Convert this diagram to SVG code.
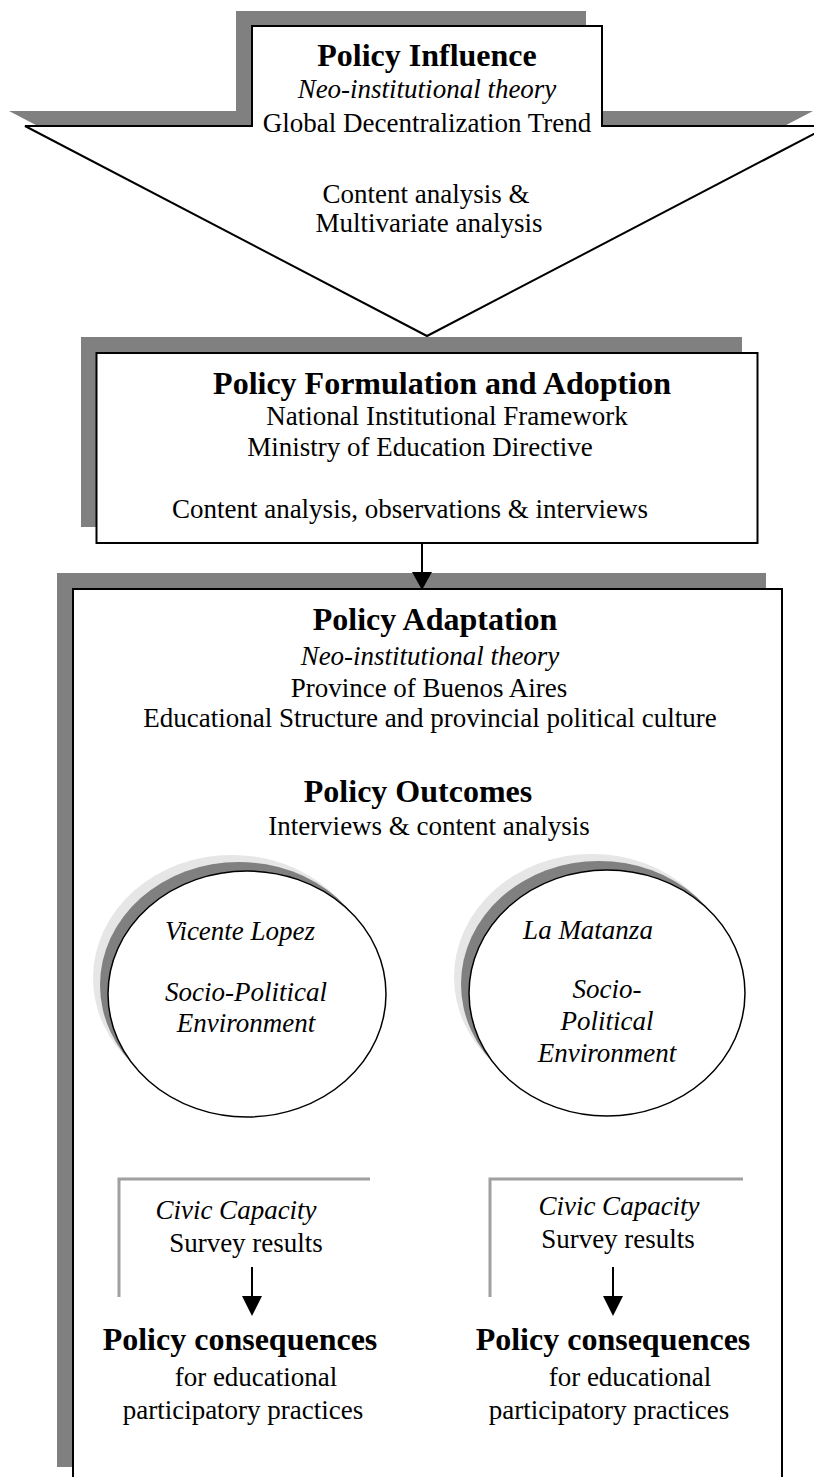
<svg xmlns="http://www.w3.org/2000/svg" width="814" height="1477" viewBox="0 0 814 1477">
  <style>
    text { font-family: "Liberation Serif", "Times New Roman", serif; fill: #000; text-anchor: middle; }
    .title { font-weight: bold; font-size: 32px; }
    .body { font-size: 27px; }
    .ital { font-style: italic; font-size: 27px; }
    .shadow { fill: #808080; stroke: none; }
    .halo { fill: #e6e6e6; stroke: none; }
    .frame { fill: #fff; stroke: #000; stroke-width: 2; }
    .oval { fill: #fff; stroke: #000; stroke-width: 1.5; }
    .bracket { fill: none; stroke: #a0a0a0; stroke-width: 3; }
    .link { stroke: #000; stroke-width: 2; fill: none; }
    .head { fill: #000; stroke: none; }
  </style>

  <!-- Stage 1: downward arrow shape with raised title block -->
  <g id="policy-influence">
    <polygon class="shadow" transform="translate(-16,-15)" points="25,126 252,126 252,26 602,26 602,126 829,126 427,336"/>
    <polygon class="frame" stroke-width="1.8" points="25,126 252,126 252,26 602,26 602,126 829,126 427,336"/>
    <text class="title" x="427" y="66">Policy Influence</text>
    <text class="ital" x="427" y="98" font-size="29">Neo-institutional theory</text>
    <text class="body" x="427" y="132" font-size="28">Global Decentralization Trend</text>
    <text class="body" x="426" y="203" font-size="26">Content analysis &amp;</text>
    <text class="body" x="429" y="232" font-size="26">Multivariate analysis</text>
  </g>

  <!-- Stage 2: national framework -->
  <g id="policy-formulation">
    <rect class="shadow" x="81" y="337" width="661" height="190"/>
    <rect class="frame" x="96.5" y="353" width="661" height="190"/>
    <text class="title" x="442" y="394">Policy Formulation and Adoption</text>
    <text class="body" x="447" y="425">National Institutional Framework</text>
    <text class="body" x="420" y="456">Ministry of Education Directive</text>
    <text class="body" x="410" y="518">Content analysis, observations &amp; interviews</text>
  </g>

  <!-- Stage 3: provincial adaptation container -->
  <g id="policy-adaptation">
    <rect class="shadow" x="57" y="573" width="709" height="894"/>
    <rect class="frame" x="73" y="589" width="709" height="920"/>
    <text class="title" x="435" y="630">Policy Adaptation</text>
    <text class="ital" x="430" y="665" font-size="31">Neo-institutional theory</text>
    <text class="body" x="429" y="697">Province of Buenos Aires</text>
    <text class="body" x="430" y="727">Educational Structure and provincial political culture</text>
    <text class="title" x="418" y="802">Policy Outcomes</text>
    <text class="body" x="429" y="835" font-size="29">Interviews &amp; content analysis</text>
  </g>

  <!-- Municipal cases -->
  <g id="vicente-lopez">
    <ellipse class="halo" cx="232" cy="978" rx="139" ry="123"/>
    <ellipse class="shadow" cx="239" cy="985" rx="139" ry="123"/>
    <ellipse class="oval" cx="247" cy="994" rx="139" ry="123"/>
    <text class="ital" x="240" y="940">Vicente Lopez</text>
    <text class="ital" x="246" y="1001">Socio-Political</text>
    <text class="ital" x="246" y="1032">Environment</text>
  </g>

  <g id="la-matanza">
    <ellipse class="halo" cx="592" cy="977" rx="138" ry="123"/>
    <ellipse class="shadow" cx="599" cy="984" rx="138" ry="123"/>
    <ellipse class="oval" cx="607" cy="993" rx="138" ry="123"/>
    <text class="ital" x="588" y="939">La Matanza</text>
    <text class="ital" x="607" y="998">Socio-</text>
    <text class="ital" x="607" y="1030">Political</text>
    <text class="ital" x="607" y="1062">Environment</text>
  </g>

  <g id="civic-capacity-left">
    <polyline class="bracket" points="119,1297 119,1179 370,1179"/>
    <text class="ital" x="236" y="1219" font-size="30">Civic Capacity</text>
    <text class="body" x="246" y="1252">Survey results</text>
  </g>

  <g id="civic-capacity-right">
    <polyline class="bracket" points="490,1297 490,1179 743,1179"/>
    <text class="ital" x="619" y="1215" font-size="30">Civic Capacity</text>
    <text class="body" x="618" y="1248">Survey results</text>
  </g>

  <g id="consequences-left">
    <text class="title" x="240" y="1350">Policy consequences</text>
    <text class="body" x="256" y="1386" font-size="31.5">for educational</text>
    <text class="body" x="243" y="1419" font-size="31.5">participatory practices</text>
  </g>

  <g id="consequences-right">
    <text class="title" x="613" y="1350">Policy consequences</text>
    <text class="body" x="630" y="1386" font-size="31.5">for educational</text>
    <text class="body" x="609" y="1419" font-size="31.5">participatory practices</text>
  </g>

  <!-- Connectors -->
  <g id="connectors">
    <line class="link" x1="422" y1="543" x2="422" y2="574"/>
    <polygon class="head" points="412,572 432,572 422,590"/>
    <line class="link" x1="252" y1="1267" x2="252" y2="1298"/>
    <polygon class="head" points="242,1296 262,1296 252,1316"/>
    <line class="link" x1="613" y1="1267" x2="613" y2="1298"/>
    <polygon class="head" points="603,1296 623,1296 613,1316"/>
  </g>
</svg>
